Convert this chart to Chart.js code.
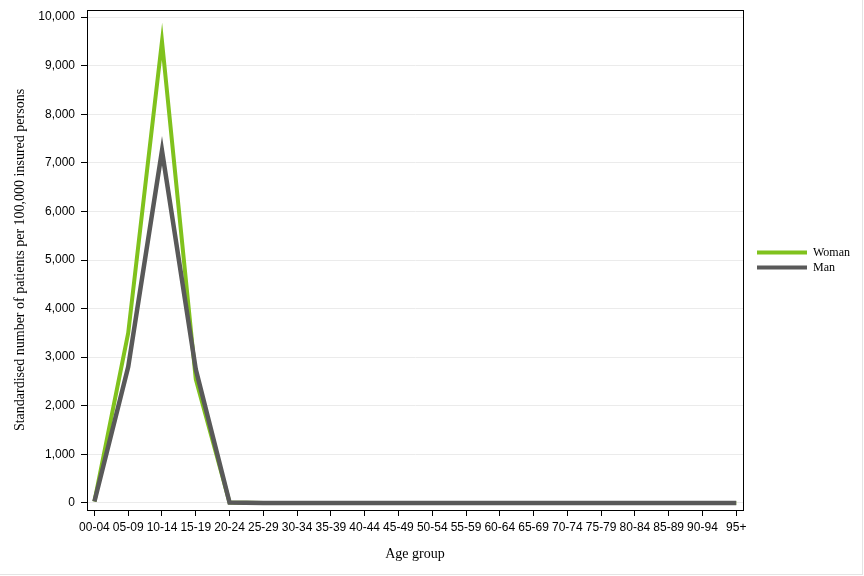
<!DOCTYPE html>
<html>
<head>
<meta charset="utf-8">
<script src="https://cdn.jsdelivr.net/npm/chart.js@4.4.1/dist/chart.umd.min.js"></script>
<style>
  body { margin: 0; background: #fff; }
  #wrap { width: 862px; height: 574px; border-right: 1px solid #e4e4e4; border-bottom: 1px solid #e4e4e4; }
</style>
</head>
<body>
<div id="wrap"><canvas id="chart" width="862" height="574"></canvas></div>
<script>
// Chart values
const ageGroups = ['00-04', '05-09', '10-14', '15-19', '20-24', '25-29', '30-34', '35-39', '40-44', '45-49',
    '50-54', '55-59', '60-64', '65-69', '70-74', '75-79', '80-84', '85-89', '90-94', '95+'];
const womanValues = [30, 3500, 9500, 2550, 10, 0, 0, 0, 0, 0, 0, 0, 0, 0, 0, 0, 0, 0, 0, 0];
const manValues = [30, 2800, 7250, 2750, 10, 0, 0, 0, 0, 0, 0, 0, 0, 0, 0, 0, 0, 0, 0, 0];
const yTicks = [0, 1000, 2000, 3000, 4000, 5000, 6000, 7000, 8000, 9000, 10000];

const serif = "'Liberation Serif', 'Times New Roman', serif";
const sans = "'Liberation Sans', Arial, sans-serif";

// Draw the box round the plot area
const frame = {
    id: 'frame',
    afterDraw(chart) {
        const { ctx, chartArea: a } = chart;
        ctx.save();
        ctx.strokeStyle = '#000';
        ctx.lineWidth = 1;
        ctx.strokeRect(a.left + 0.5, a.top + 0.5, a.right - a.left, a.bottom - a.top);
        ctx.restore();
    }
};

// Fixed legend width, then move it off the plot and centre it on the plot height
const legendGap = {
    id: 'legendGap',
    afterInit(chart) {
        const lg = chart.legend;
        const fit = lg.fit.bind(lg);
        lg.fit = function () { fit(); this.width = 110; };
    },
    afterLayout(chart) {
        const lg = chart.legend;
        const a = chart.chartArea;
        lg.left += 11;
        lg.right += 11;
        lg.top = a.top;
        lg.bottom = a.bottom;
        lg.height = a.bottom - a.top;
    }
};

new Chart(document.getElementById('chart'), {
    type: 'line',
    data: {
        datasets: [
            {
                label: 'Man',
                data: manValues.map((v, i) => ({ x: i, y: v })),
                borderColor: '#595959',
                backgroundColor: '#595959',
                borderWidth: 4.5,
                pointRadius: 0,
                tension: 0
            },
            {
                label: 'Woman',
                data: womanValues.map((v, i) => ({ x: i, y: v })),
                borderColor: '#80C21D',
                backgroundColor: '#80C21D',
                borderWidth: 4,
                pointRadius: 0,
                tension: 0
            }
        ]
    },
    plugins: [frame, legendGap],
    options: {
        responsive: false,
        animation: false,
        layout: { padding: { top: 10, right: 9, left: 0, bottom: 0 } },
        plugins: {
            tooltip: { enabled: false },
            legend: {
                position: 'right',
                reverse: true,
                labels: {
                    boxWidth: 50,
                    boxHeight: 4,
                    padding: 3,
                    color: '#000',
                    font: { family: serif, size: 12 },
                    generateLabels: chart => Chart.defaults.plugins.legend.labels.generateLabels(chart)
                        .map(item => Object.assign(item, { lineWidth: 0 }))
                }
            }
        },
        scales: {
            x: {
                type: 'linear',
                min: -0.22,
                max: 19.2,
                afterBuildTicks: s => { s.ticks = ageGroups.map((g, i) => ({ value: i })); },
                afterFit: s => { s.height = 64; s.paddingLeft = 0; s.paddingRight = 0; },
                ticks: {
                    autoSkip: false,
                    maxRotation: 0,
                    padding: 4,
                    color: '#000',
                    font: { family: sans, size: 12 },
                    callback: v => ageGroups[v]
                },
                grid: { drawOnChartArea: false, tickLength: 6, tickColor: '#000' },
                border: { color: '#000' },
                title: {
                    display: true,
                    text: 'Age group',
                    color: '#000',
                    font: { family: serif, size: 14 },
                    padding: { top: 0, bottom: 11 }
                }
            },
            y: {
                min: -145,
                max: 10145,
                afterBuildTicks: s => { s.ticks = yTicks.map(v => ({ value: v })); },
                afterFit: s => { s.width = 87; s.paddingTop = 0; s.paddingBottom = 0; },
                ticks: {
                    padding: 6,
                    color: '#000',
                    font: { family: sans, size: 12 },
                    callback: v => v.toLocaleString('en-US')
                },
                grid: { color: '#ebebeb', tickLength: 6, tickColor: '#000' },
                border: { color: '#000' },
                title: {
                    display: true,
                    text: 'Standardised number of patients per 100,000 insured persons',
                    color: '#000',
                    font: { family: serif, size: 14 },
                    padding: { top: 12, bottom: 0 }
                }
            }
        }
    }
});
</script>
</body>
</html>
